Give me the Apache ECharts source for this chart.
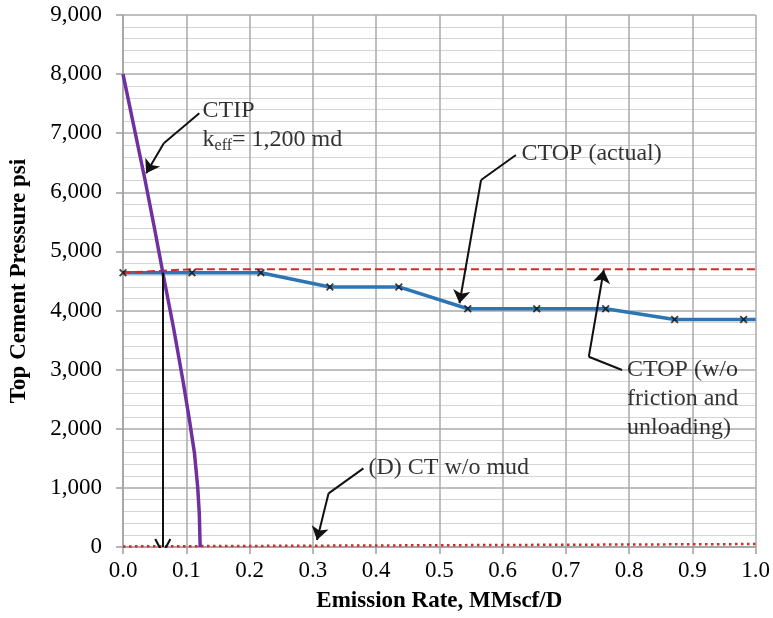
<!DOCTYPE html>
<html>
<head>
<meta charset="utf-8">
<script src="https://cdn.jsdelivr.net/npm/echarts@6/dist/echarts.min.js"></script>
<style>
  html, body { margin: 0; padding: 0; background: #fff; }
  #chart { width: 773px; height: 618px; }
</style>
</head>
<body>
<div id="chart"></div>
<script>
var FONT = '"Liberation Serif", "Times New Roman", serif';

// CTOP (actual) - blue line with x markers
var ctopRate = [0, 0.109, 0.218, 0.327, 0.436, 0.545, 0.654, 0.763, 0.872, 0.981, 1.0];
var ctopPsi  = [4640, 4640, 4640, 4400, 4400, 4030, 4030, 4030, 3850, 3850, 3850];
var ctopMarkCount = 10; // last point (axis edge) has no marker

// CTOP w/o friction and unloading - red dashed
var noFricRate = [0, 0.109, 1.0];
var noFricPsi  = [4640, 4700, 4700];

// (D) CT w/o mud - red dotted
var noMudRate = [0, 1.0];
var noMudPsi  = [10, 50];

// CTIP, keff = 1,200 md - purple
var ctipRate = [0, 0.035, 0.05, 0.063, 0.08, 0.095, 0.105, 0.113, 0.118, 0.1206, 0.1215, 0.122];
var ctipPsi  = [8000, 6200, 5380, 4640, 3700, 2800, 2150, 1585, 1020, 570, 200, 0];

// annotation arrows (rate, psi), last point is the tip
var arrowPaths = [
  [[0.1206, 7337], [0.0645, 6830], [0.0366, 6322]],
  [[0.6211, 6632], [0.566, 6209], [0.5319, 4123]],
  [[0.7888, 2994], [0.7363, 3219], [0.7599, 4686]],
  [[0.380, 1331], [0.325, 908], [0.3066, 118]]
];
var dropArrow = [[0.0629, 4640], [0.0629, 0]];

// annotation texts (left-middle anchor)
var noteAnchors = [[0.1258, 7139], [0.630, 6660], [0.7967, 2504], [0.3879, 1345]];
var noteTexts = [
  '{t|CTIP}\n{t|k}{s|eff}{t|= 1,200 md}',
  '{t|CTOP (actual)}',
  '{t|CTOP (w/o}\n{t|friction and}\n{t|unloading)}',
  '{t|(D) CT w/o mud}'
];

function zip(xs, ys) {
  return xs.map(function (x, i) { return [x, ys[i]]; });
}

var chart = echarts.init(document.getElementById('chart'));

var richText = {
  t: { fontFamily: FONT, fontSize: 24, lineHeight: 29, color: '#000' },
  s: { fontFamily: FONT, fontSize: 16, lineHeight: 14, verticalAlign: 'bottom', color: '#000' }
};

var xMark = 'path://M0,1.6 L1.6,0 L5,3.4 L8.4,0 L10,1.6 L6.6,5 L10,8.4 L8.4,10 L5,6.6 L1.6,10 L0,8.4 L3.4,5 Z';
var chevron = 'path://M5,0 L10,8.6 L8.9,9.2 L5,2.4 L1.1,9.2 L0,8.6 Z';

// split the arrow paths: plain shafts and the last segment carrying the head
function shafts() {
  var out = [];
  arrowPaths.forEach(function (p) {
    for (var i = 0; i < p.length - 2; i++) out.push({ coords: [p[i], p[i + 1]] });
  });
  return out;
}

var option = {
  animation: false,
  grid: { left: 120, right: 17, top: 15, bottom: 71 },
  xAxis: {
    type: 'value', min: 0, max: 1, interval: 0.1,
    name: 'Emission Rate, MMscf/D', nameLocation: 'middle', nameGap: 43,
    nameTextStyle: { fontFamily: FONT, fontSize: 23, fontWeight: 'bold', color: '#000' },
    axisLine: { show: true, lineStyle: { color: '#a0a0a0', width: 1.5 } },
    axisTick: { show: true, length: 7, lineStyle: { color: '#a0a0a0', width: 1.5 } },
    axisLabel: {
      fontFamily: FONT, fontSize: 23, color: '#000', margin: 12,
      formatter: function (v) { return v.toFixed(1); }
    },
    splitLine: { show: true, lineStyle: { color: '#aaaaaa', width: 1.5 } }
  },
  yAxis: {
    type: 'value', min: 0, max: 9000, interval: 1000,
    name: 'Top Cement Pressure psi', nameLocation: 'middle', nameGap: 92,
    nameTextStyle: { fontFamily: FONT, fontSize: 23, fontWeight: 'bold', color: '#000' },
    axisLine: { show: true, lineStyle: { color: '#a0a0a0', width: 1.5 } },
    axisTick: { show: true, length: 7, lineStyle: { color: '#a0a0a0', width: 1.5 } },
    axisLabel: {
      fontFamily: FONT, fontSize: 23, color: '#000', margin: 21,
      formatter: function (v) { return v.toLocaleString('en-US'); }
    },
    splitLine: { show: true, lineStyle: { color: '#aaaaaa', width: 1.5 } },
    minorTick: { show: false, splitNumber: 5 },
    minorSplitLine: { show: true, lineStyle: { color: '#d4d4d4', width: 1.2 } }
  },
  series: [
    {
      name: 'CT w/o mud', type: 'line', data: zip(noMudRate, noMudPsi),
      symbol: 'none', lineStyle: { color: '#d42a2a', width: 2.5, type: [2.5, 3.5] }, z: 2
    },
    {
      name: 'CTOP (actual)', type: 'line', data: zip(ctopRate, ctopPsi),
      symbol: 'none', lineStyle: { color: '#2e75b6', width: 3.5 }, z: 3
    },
    {
      name: 'CTOP (w/o friction)', type: 'line', data: zip(noFricRate, noFricPsi),
      symbol: 'none', lineStyle: { color: '#d42a2a', width: 2, type: [8, 4] }, z: 4
    },
    {
      name: 'CTIP', type: 'line', data: zip(ctipRate, ctipPsi),
      symbol: 'none', lineStyle: { color: '#7030a0', width: 3.5 }, z: 5
    },
    {
      name: 'CTOP markers', type: 'scatter',
      data: zip(ctopRate, ctopPsi).slice(0, ctopMarkCount),
      symbol: xMark, symbolSize: 8, itemStyle: { color: '#111' }, z: 6
    },
    {
      name: 'arrow shafts', type: 'lines', coordinateSystem: 'cartesian2d',
      data: shafts(), symbol: 'none',
      lineStyle: { color: '#111', width: 2, opacity: 1 }, z: 7
    },
    {
      name: 'arrow heads', type: 'lines', coordinateSystem: 'cartesian2d',
      data: arrowPaths.map(function (p) { return { coords: p.slice(-2) }; }),
      symbol: ['none', 'arrow'], symbolSize: 13,
      lineStyle: { color: '#111', width: 2, opacity: 1 }, z: 7
    },
    {
      name: 'drop', type: 'lines', coordinateSystem: 'cartesian2d',
      data: [{ coords: dropArrow }],
      symbol: ['none', chevron], symbolSize: 17,
      lineStyle: { color: '#111', width: 2, opacity: 1 }, z: 7
    },
    {
      name: 'notes', type: 'scatter', symbolSize: 0, silent: true, z: 8,
      data: noteAnchors.map(function (a, i) {
        return {
          value: a,
          label: {
            show: true, position: 'right', distance: 0,
            formatter: noteTexts[i], rich: richText
          }
        };
      })
    }
  ]
};

chart.setOption(option);
</script>
</body>
</html>
